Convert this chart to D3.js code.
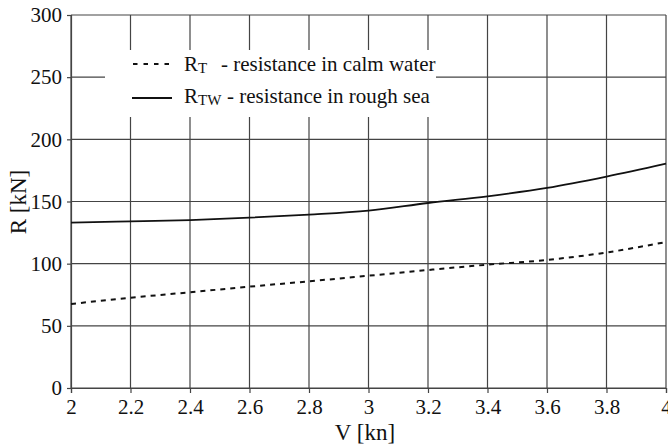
<!DOCTYPE html>
<html><head><meta charset="utf-8">
<script src="https://cdn.jsdelivr.net/npm/d3@7"></script>
<style>
body{margin:0;background:#fff}svg{display:block}
svg text{font-family:"Liberation Serif","Times New Roman",serif;}
</style>
</head><body>
<svg id="c" width="668" height="445"></svg>
<script>
const V = [2.0, 2.2, 2.4, 2.6, 2.8, 3.0, 3.2, 3.4, 3.6, 3.8, 4.0];
const RT = [67.6, 72.6, 77.0, 81.5, 85.8, 90.3, 94.9, 99.2, 103.0, 109.0, 117.4];
const RTW = [133.0, 134.0, 135.1, 137.0, 139.4, 142.6, 148.8, 154.2, 160.9, 170.0, 180.4];
const xTicks = [2, 2.2, 2.4, 2.6, 2.8, 3, 3.2, 3.4, 3.6, 3.8, 4];
const yTicks = [0, 50, 100, 150, 200, 250, 300];

const FF = "Liberation Serif";
const svg = d3.select("#c");
const L = 71, R = 666, T = 15, B = 388;
const x = d3.scaleLinear().domain([2, 4]).range([L, R]);
const y = d3.scaleLinear().domain([0, 300]).range([B, T]);
const gridCol = "#444";

const g = svg.append("g");
g.selectAll("line.v").data(xTicks).join("line")
  .attr("x1", d => x(d)).attr("x2", d => x(d)).attr("y1", T).attr("y2", B)
  .attr("stroke", gridCol).attr("stroke-width", 1.2);
g.selectAll("line.h").data(yTicks).join("line")
  .attr("x1", L).attr("x2", R).attr("y1", d => y(d)).attr("y2", d => y(d))
  .attr("stroke", gridCol).attr("stroke-width", 1.2);

const xAxis = d3.axisBottom(x).tickValues(xTicks).tickSize(5).tickPadding(6).tickFormat(d3.format("~g"));
const yAxis = d3.axisLeft(y).tickValues(yTicks).tickSize(4).tickPadding(5);
const gx = svg.append("g").attr("transform", `translate(0,${B})`).call(xAxis);
const gy = svg.append("g").attr("transform", `translate(${L},0)`).call(yAxis);
[gx, gy].forEach(a => {
  a.attr("font-family", FF).attr("font-size", 21);
  a.select(".domain").attr("stroke", gridCol).attr("stroke-width", 1.2);
  a.selectAll(".tick line").attr("stroke", gridCol).attr("stroke-width", 1.2);
  a.selectAll("text").attr("fill", "#111");
});

svg.append("rect").attr("x", 105).attr("y", 50).attr("width", 331).attr("height", 67).attr("fill", "#fff");

const line = d3.line().x(d => x(d[0])).y(d => y(d[1])).curve(d3.curveMonotoneX);
svg.append("path").datum(V.map((v, i) => [v, RT[i]])).attr("d", line)
  .attr("fill", "none").attr("stroke", "#111").attr("stroke-width", 2).attr("stroke-dasharray", "5,5");
svg.append("path").datum(V.map((v, i) => [v, RTW[i]])).attr("d", line)
  .attr("fill", "none").attr("stroke", "#111").attr("stroke-width", 1.8);

const leg = svg.append("g");
leg.append("line").attr("x1", 133).attr("x2", 172).attr("y1", 64).attr("y2", 64)
  .attr("stroke", "#111").attr("stroke-width", 2).attr("stroke-dasharray", "4.5,6");
leg.append("line").attr("x1", 132).attr("x2", 172).attr("y1", 98).attr("y2", 98)
  .attr("stroke", "#111").attr("stroke-width", 1.8);
const legItems = [
  {sub: "T", label: "- resistance in calm water", yb: 71, lx: 221},
  {sub: "TW", label: "- resistance in rough sea", yb: 102.5, lx: 227}
];
legItems.forEach(it => {
  const t = leg.append("text").attr("x", 184).attr("y", it.yb)
    .attr("font-family", FF).attr("font-size", 21).attr("fill", "#111");
  t.append("tspan").text("R");
  t.append("tspan").attr("font-size", 15).attr("dy", 2).text(it.sub);
  leg.append("text").attr("x", it.lx).attr("y", it.yb)
    .attr("font-family", FF).attr("font-size", 21).attr("fill", "#111").text(it.label);
});

svg.append("text").attr("x", 365).attr("y", 440).attr("text-anchor", "middle")
  .attr("font-family", FF).attr("font-size", 23).attr("fill", "#111").text("V [kn]");
svg.append("text").attr("transform", "translate(26,202) rotate(-90)").attr("text-anchor", "middle")
  .attr("font-family", FF).attr("font-size", 23).attr("fill", "#111").text("R [kN]");
</script>
</body></html>
